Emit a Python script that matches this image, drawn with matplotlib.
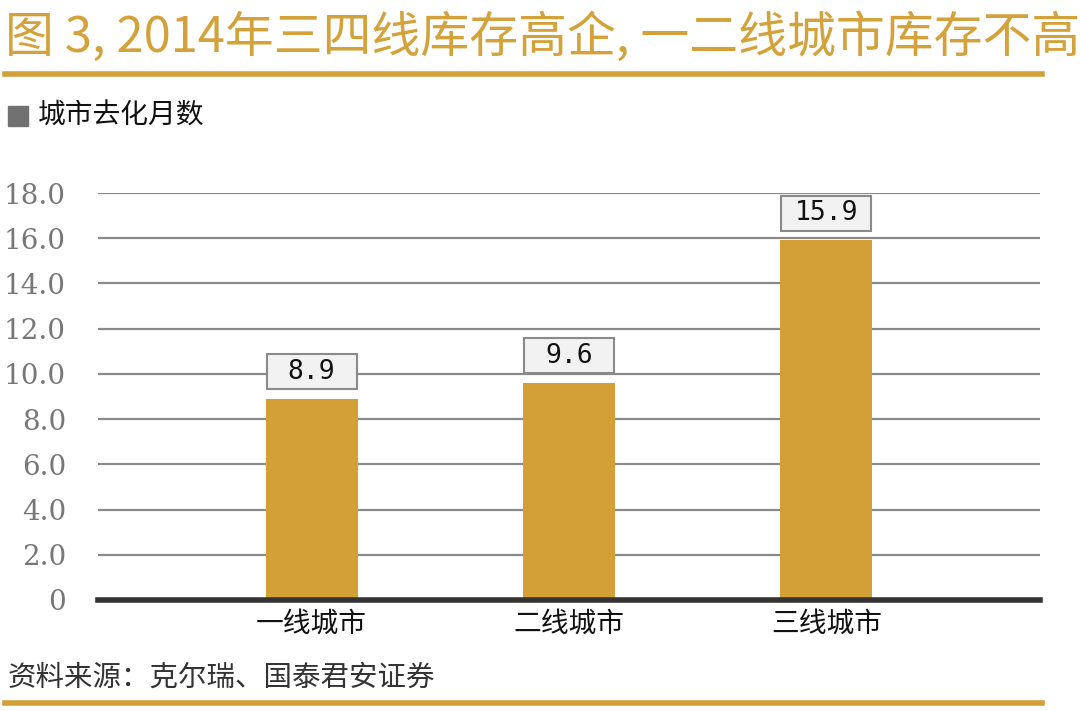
import matplotlib
matplotlib.use("Agg")
import matplotlib.pyplot as plt
from matplotlib.patches import Rectangle

plt.rcParams['font.family'] = ['Noto Sans CJK SC', 'DejaVu Sans']

title = "图 3, 2014年三四线库存高企, 一二线城市库存不高"
legend_label = "城市去化月数"
categories = ["一线城市", "二线城市", "三线城市"]
values = [8.9, 9.6, 15.9]
yticks = [0, 2, 4, 6, 8, 10, 12, 14, 16, 18]
ytick_labels = ["0", "2.0", "4.0", "6.0", "8.0", "10.0", "12.0", "14.0", "16.0", "18.0"]
source = "资料来源：克尔瑞、国泰君安证券"

GOLD = "#D3A038"
W, H = 1080, 711
fig = plt.figure(figsize=(10.8, 7.11), dpi=100)

def fx(px): return px / W
def fy(py): return 1 - py / H

# title
fig.text(fx(5), fy(38), title, color="#D4A23A", fontsize=35.2, va="center", ha="left")
# gold rules
fig.add_artist(plt.Line2D([fx(5), fx(1042)], [fy(74), fy(74)], color=GOLD, lw=4, transform=fig.transFigure))
fig.add_artist(plt.Line2D([fx(5), fx(1042)], [fy(703), fy(703)], color=GOLD, lw=4, transform=fig.transFigure))

# legend
fig.add_artist(Rectangle((fx(8), fy(126)), fx(20), 20 / H, color="#717171", transform=fig.transFigure))
fig.text(fx(38), fy(116), legend_label, fontsize=20, color="#111111", va="center", ha="left")

# axes
ax = fig.add_axes([fx(98), fy(600), fx(1040 - 98), (600 - 193) / H])
x = list(range(len(categories)))
ax.bar(x, values, width=0.357, color=GOLD, zorder=3)
ax.set_xlim(-0.83, 2.83)
ax.set_ylim(0, 18)
ax.set_yticks(yticks)
ax.set_yticklabels(ytick_labels, family="DejaVu Serif", fontsize=20, color="#777777")
ax.set_xticks(x)
ax.set_xticklabels(categories, fontsize=20, color="#111111")
ax.tick_params(axis="both", length=0)
ax.tick_params(axis="y", pad=23)
ax.tick_params(axis="x", pad=6)
for yv in yticks[1:]:
    ax.axhline(yv, color="#8a8a8a", lw=1.6, zorder=1)
for s in ["top", "right", "left"]:
    ax.spines[s].set_visible(False)
ax.spines["bottom"].set_color("#333333")
ax.spines["bottom"].set_linewidth(4)
ax.spines["bottom"].set_zorder(4)

box_w, box_h, gap = 0.35, 1.55, 0.42
for xi, v in zip(x, values):
    ax.add_patch(Rectangle((xi - box_w / 2, v + gap), box_w, box_h, fc="#f2f2f2",
                           ec="#8a8a8a", lw=1.5, zorder=5, clip_on=False))
    ax.text(xi, v + gap + box_h / 2, f"{v:.1f}", ha="center", va="center", fontsize=19,
            family="DejaVu Sans Mono", color="#111111", zorder=6)

# source
fig.text(fx(8), fy(678), source, fontsize=20.5, color="#333333", va="center", ha="left")

fig.savefig("out.png", dpi=100)
